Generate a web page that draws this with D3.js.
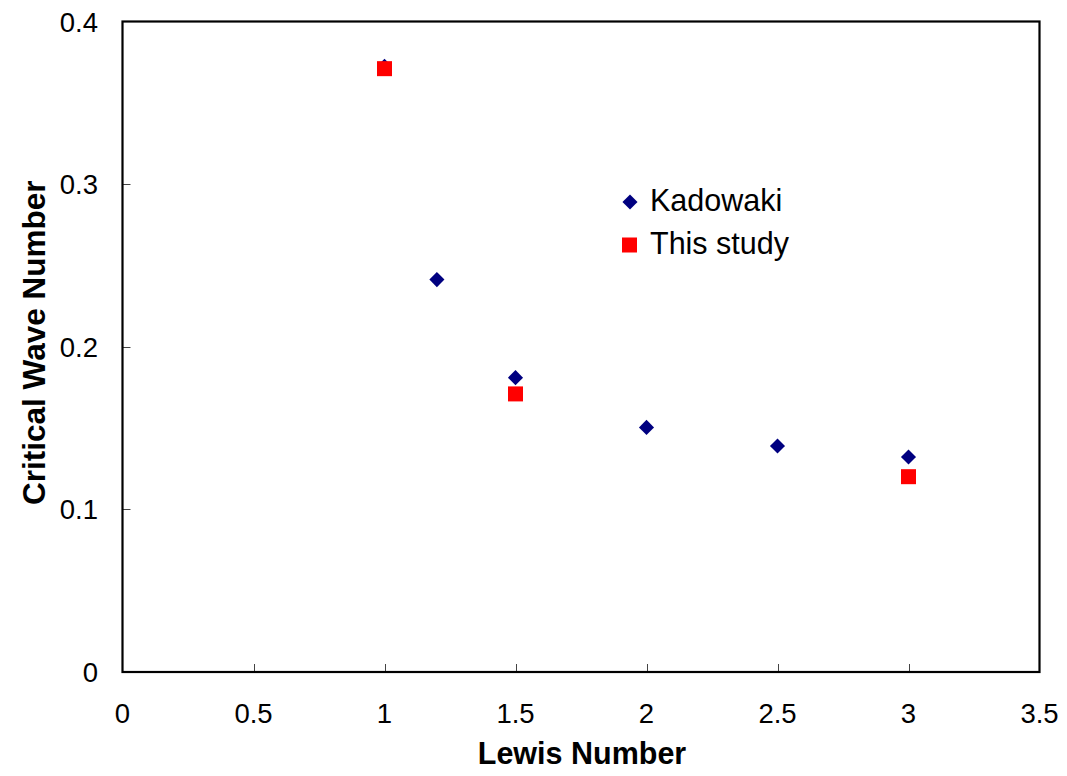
<!DOCTYPE html>
<html>
<head>
<meta charset="utf-8">
<script src="https://cdn.jsdelivr.net/npm/d3@7"></script>
<style>
  html, body { margin: 0; padding: 0; background: #fff; }
  svg { display: block; font-family: Arial, "Liberation Sans", sans-serif; }
</style>
</head>
<body>
<svg id="chart" width="1067" height="776"></svg>
<script>
// Critical wave number versus Lewis number
const kadowakiLe = [1.0, 1.2, 1.5, 2.0, 2.5, 3.0];
const kadowakiK  = [0.3725, 0.2413, 0.1810, 0.1504, 0.1390, 0.1322];
const studyLe    = [1.0, 1.5, 3.0];
const studyK     = [0.3710, 0.1710, 0.1201];
const xTicks = [0, 0.5, 1, 1.5, 2, 2.5, 3, 3.5];
const yTicks = [0, 0.1, 0.2, 0.3, 0.4];
const seriesNames = ["Kadowaki", "This study"];

const svg = d3.select("#chart");
const plotL = 122.5, plotR = 1039.5, plotT = 21.5, plotB = 672;

const x = d3.scaleLinear().domain([0, 3.5]).range([plotL, plotR]);
const y = d3.scaleLinear().domain([0, 0.4]).range([plotB, plotT]);

// inward ticks
svg.append("g")
  .selectAll("line")
  .data(xTicks.slice(1, -1))
  .join("line")
  .attr("x1", d => Math.round(x(d)) + 0.5).attr("x2", d => Math.round(x(d)) + 0.5)
  .attr("y1", plotB).attr("y2", plotB - 8)
  .attr("stroke", "#444").attr("stroke-width", 1);

svg.append("g")
  .selectAll("line")
  .data(yTicks.slice(1, -1))
  .join("line")
  .attr("x1", plotL).attr("x2", plotL + 8)
  .attr("y1", d => Math.round(y(d)) + 0.5).attr("y2", d => Math.round(y(d)) + 0.5)
  .attr("stroke", "#444").attr("stroke-width", 1);

// plot frame
svg.append("rect")
  .attr("x", plotL).attr("y", plotT)
  .attr("width", plotR - plotL).attr("height", plotB - plotT)
  .attr("fill", "none").attr("stroke", "#000").attr("stroke-width", 2.2);

// tick labels
svg.append("g")
  .selectAll("text")
  .data(xTicks)
  .join("text")
  .attr("x", d => x(d)).attr("y", 723)
  .attr("text-anchor", "middle")
  .attr("font-size", 27.5)
  .text(d => d3.format("")(d));

svg.append("g")
  .selectAll("text")
  .data(yTicks)
  .join("text")
  .attr("x", 98).attr("y", d => y(d) + 10)
  .attr("text-anchor", "end")
  .attr("font-size", 27.5)
  .text(d => d3.format("")(d));

// axis titles
svg.append("text")
  .attr("x", (plotL + plotR) / 2 + 1).attr("y", 764)
  .attr("text-anchor", "middle")
  .attr("font-size", 30.5).attr("font-weight", "bold")
  .text("Lewis Number");

svg.append("text")
  .attr("transform", `translate(45,${(plotT + plotB) / 2 - 4}) rotate(-90)`)
  .attr("text-anchor", "middle")
  .attr("font-size", 31.5).attr("font-weight", "bold")
  .text("Critical Wave Number");

// markers
const diamond = d3.symbol().type(d3.symbolDiamond2).size(145);
const sq = 15;

svg.append("g")
  .selectAll("path")
  .data(d3.zip(kadowakiLe, kadowakiK))
  .join("path")
  .attr("d", diamond)
  .attr("transform", d => `translate(${x(d[0])},${y(d[1])})`)
  .attr("fill", "#000080");

svg.append("g")
  .selectAll("rect")
  .data(d3.zip(studyLe, studyK))
  .join("rect")
  .attr("x", d => x(d[0]) - sq / 2).attr("y", d => y(d[1]) - sq / 2)
  .attr("width", sq).attr("height", sq)
  .attr("fill", "#ff0000");

// legend
const lg = svg.append("g");
lg.append("path").attr("d", diamond).attr("transform", "translate(630,202)").attr("fill", "#000080");
lg.append("rect").attr("x", 622).attr("y", 237.5).attr("width", sq).attr("height", sq).attr("fill", "#ff0000");
lg.selectAll("text")
  .data(seriesNames)
  .join("text")
  .attr("x", 650).attr("y", (d, i) => 211 + i * 43)
  .attr("font-size", 30.5)
  .text(d => d);
</script>
</body>
</html>
